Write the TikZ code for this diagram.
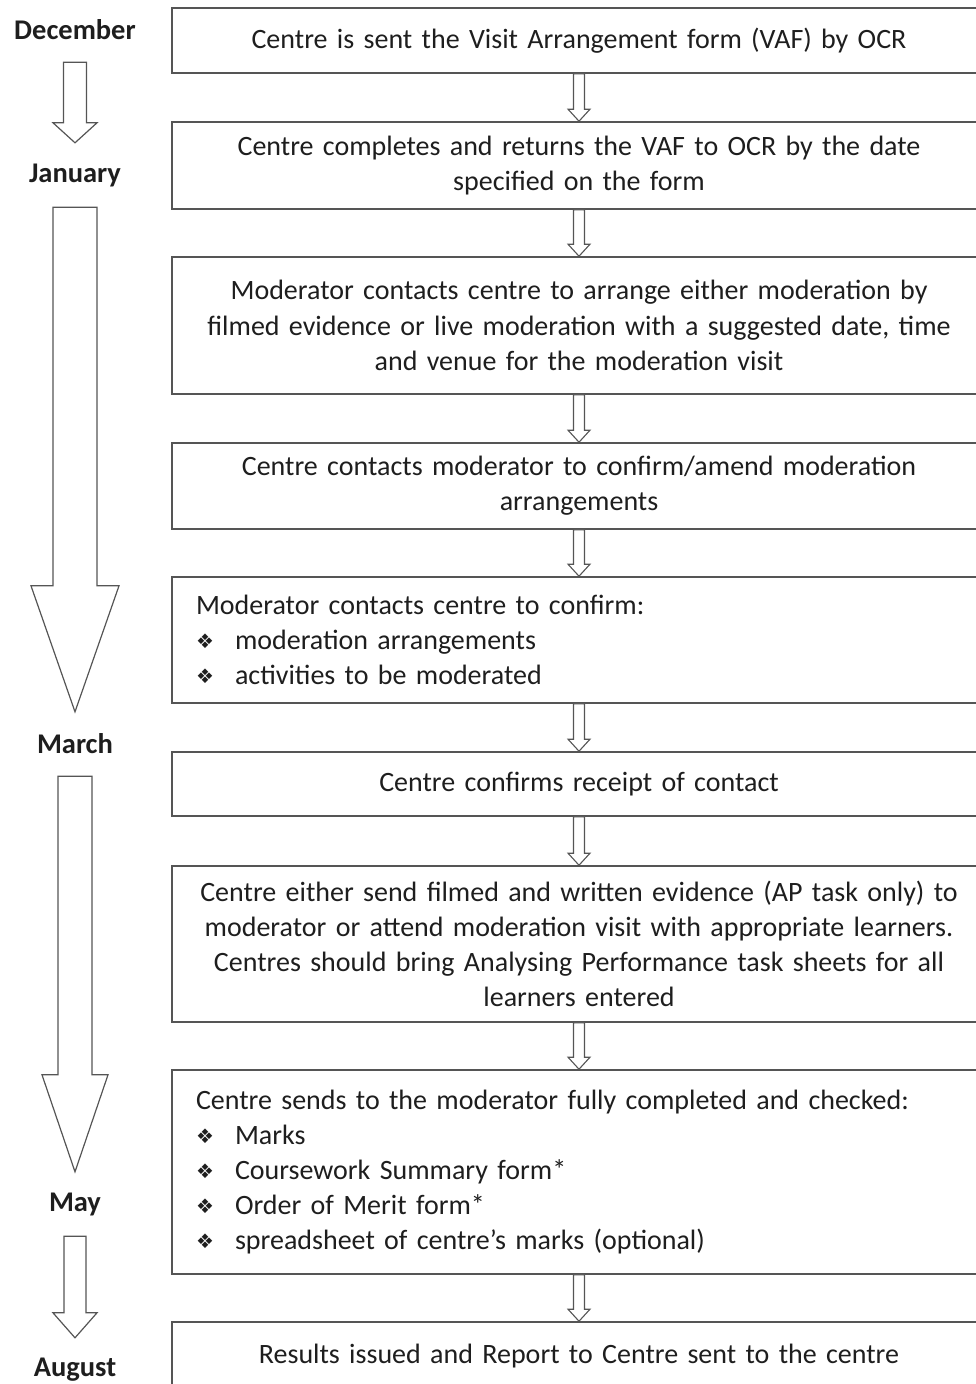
\documentclass[tikz,border=0pt]{standalone}
\usepackage{fontspec}
\setmainfont{Carlito}
\newfontfamily\symfont{DejaVu Sans}
\usetikzlibrary{positioning, calc}
\definecolor{linegray}{RGB}{85,85,85}
\definecolor{textblack}{RGB}{30,30,30}

\newcommand{\itembullet}{\makebox[39pt][l]{\raisebox{1pt}{\symfont\fontsize{20}{20}\selectfont ❖}}}
\newcommand{\blockarrow}[6][]{%
  \draw[#1] let \p1=(#2), \p2=(#3) in
    (\x1-#4,\y1) -- (\x1-#4,\y2+#6) -- (\x1-#5,\y2+#6) -- (\x1,\y2)
    -- (\x1+#5,\y2+#6) -- (\x1+#4,\y2+#6) -- (\x1+#4,\y1) -- cycle;
}

\begin{document}
\begin{tikzpicture}[
  x=1pt, y=-1pt,
  box/.style={draw=linegray, line width=1.6pt, fill=white, minimum width=814pt,
              text width=766pt, inner xsep=24pt, inner ysep=0pt, align=center,
              text=textblack, font=\fontsize{28}{35.2}\selectfont},
  listbox/.style={box, align=left},
  month/.style={minimum height=64pt, inner sep=0pt, text=textblack,
                font=\fontsize{28.5}{35.2}\selectfont\bfseries},
  bigarrow/.style={draw=linegray, line width=1.2pt, fill=white, line join=miter},
  smallarrow/.style={draw=linegray, line width=1.1pt, fill=white}
]
  \useasboundingbox (0,0) rectangle (976,1384);
  \clip (0,0) rectangle (976,1384);

  \node[month] (dec) at (75,30) {December};
  \node[month] (jan) at (75,175) {January};
  \node[month] (mar) at (75,744) {March};
  \node[month] (may) at (75,1204) {May};
  \node[month] (aug) at (75,1370) {August};

  \blockarrow[bigarrow]{dec.south}{jan.north}{11.5pt}{22pt}{20pt}
  \blockarrow[bigarrow]{jan.south}{mar.north}{22pt}{44pt}{126pt}
  \blockarrow[bigarrow]{mar.south}{may.north}{17pt}{33pt}{97pt}
  \blockarrow[bigarrow]{may.south}{aug.north}{11pt}{22pt}{25pt}

  \node[box, minimum height=65] (b1) at (579,40.5)
    {Centre is sent the Visit Arrangement form (VAF) by OCR};
  \node[box, minimum height=87] (b2) at (579,165.5)
    {Centre completes and returns the VAF to OCR by the date\\specified on the form};
  \node[box, minimum height=137] (b3) at (579,325.5)
    {Moderator contacts centre to arrange either moderation by\\filmed evidence or live moderation with a suggested date, time\\and venue for the moderation visit};
  \node[box, minimum height=86] (b4) at (579,486)
    {Centre contacts moderator to confirm/amend moderation\\arrangements};
  \node[listbox, minimum height=126] (b5) at (579,640)
    {Moderator contacts centre to confirm:\\
     \itembullet moderation arrangements\\
     \itembullet activities to be moderated};
  \node[box, minimum height=64] (b6) at (579,784)
    {Centre confirms receipt of contact};
  \node[box, minimum height=156] (b7) at (579,944)
    {Centre either send filmed and written evidence (AP task only) to\\moderator or attend moderation visit with appropriate learners.\\Centres should bring Analysing Performance task sheets for all\\learners entered};
  \node[listbox, minimum height=204] (b8) at (579,1172)
    {Centre sends to the moderator fully completed and checked:\\
     \itembullet Marks\\
     \itembullet Coursework Summary form*\\
     \itembullet Order of Merit form*\\
     \itembullet spreadsheet of centre’s marks (optional)};
  \node[box, minimum height=68] (b9) at (579,1356)
    {Results issued and Report to Centre sent to the centre};

  \foreach \a/\b in {b1/b2, b2/b3, b3/b4, b4/b5, b5/b6, b6/b7, b7/b8, b8/b9}
    {\blockarrow[smallarrow]{\a.south}{\b.north}{5.5pt}{11pt}{12pt}}
\end{tikzpicture}
\end{document}
